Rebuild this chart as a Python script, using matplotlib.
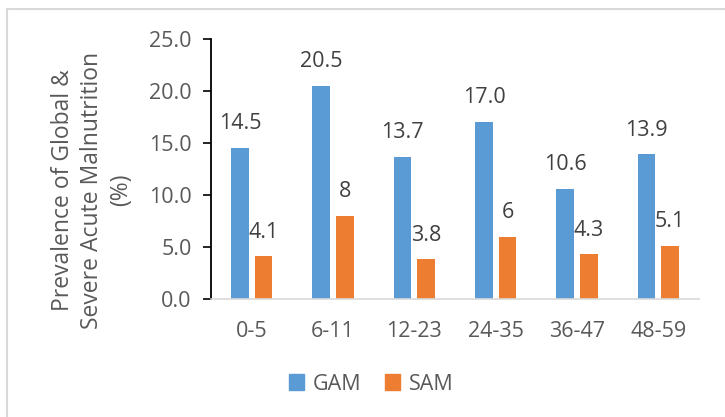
import numpy as np
import matplotlib.pyplot as plt
from matplotlib.patches import Patch, Rectangle

plt.rcParams['font.family'] = ['Open Sans', 'DejaVu Sans']

# age groups (months) and prevalence values (%)
age_groups = ['0-5', '6-11', '12-23', '24-35', '36-47', '48-59']
gam = [14.5, 20.5, 13.7, 17.0, 10.6, 13.9]
sam = [4.1, 8, 3.8, 6, 4.3, 5.1]

GAM_COL = '#5B9BD5'
SAM_COL = '#ED7D31'
TXT = '#595959'
FS = 15.5

fig = plt.figure(figsize=(7.25, 4.17), dpi=100)
ax = fig.add_axes([211/725, 1 - 299/417, 488/725, 260/417])

x = np.arange(len(age_groups))
w = 0.217
off = 0.144
b1 = ax.bar(x - off, gam, w, color=GAM_COL)
b2 = ax.bar(x + off, sam, w, color=SAM_COL)

for bars, fmt in ((b1, '{:.1f}'), (b2, '{:g}')):
    for r in bars:
        v = r.get_height()
        ax.annotate(fmt.format(v), (r.get_x() + r.get_width() / 2, v),
                    xytext=(0, 13.5), textcoords='offset points',
                    ha='center', va='baseline', fontsize=FS, color='#404040')

ax.set_xlim(-0.5, len(age_groups) - 0.5)
ax.set_ylim(0, 25)
ax.set_yticks(np.arange(0, 25.1, 5))
ax.set_yticklabels(['{:.1f}'.format(t) for t in np.arange(0, 25.1, 5)])
ax.set_xticks(x)
ax.set_xticklabels(age_groups)

for s in ['top', 'right']:
    ax.spines[s].set_visible(False)
ax.spines['left'].set_color('black')
ax.spines['left'].set_linewidth(1.3)
ax.spines['bottom'].set_color('#D9D9D9')
ax.spines['bottom'].set_linewidth(1.2)
ax.tick_params(axis='y', direction='out', length=6, width=1.2, color='black',
               labelsize=FS, labelcolor=TXT, pad=8)
ax.tick_params(axis='x', length=0, labelsize=FS, labelcolor=TXT, pad=16)

fig.text(92/725, 1 - 190/417,
         'Prevalence of Global &\nSevere Acute Malnutrition\n(%)',
         rotation=90, ha='center', va='center', multialignment='center',
         fontsize=16.5, color=TXT, linespacing=1.3)

handles = [Patch(color=GAM_COL, label='GAM'), Patch(color=SAM_COL, label='SAM')]
fig.legend(handles=handles, loc='center', bbox_to_anchor=(371/725, 1 - 384/417),
           ncol=2, frameon=False, fontsize=FS, labelcolor=TXT,
           handlelength=0.7, handleheight=0.7, handletextpad=0.4,
           columnspacing=1.1)

# chart area border
fig.patches.append(Rectangle((7/725, -0.1), 1.2, 1.1 - 9/417,
                             transform=fig.transFigure, fill=False,
                             edgecolor='#D9D9D9', linewidth=1.5))

fig.savefig('out.png', dpi=100)
